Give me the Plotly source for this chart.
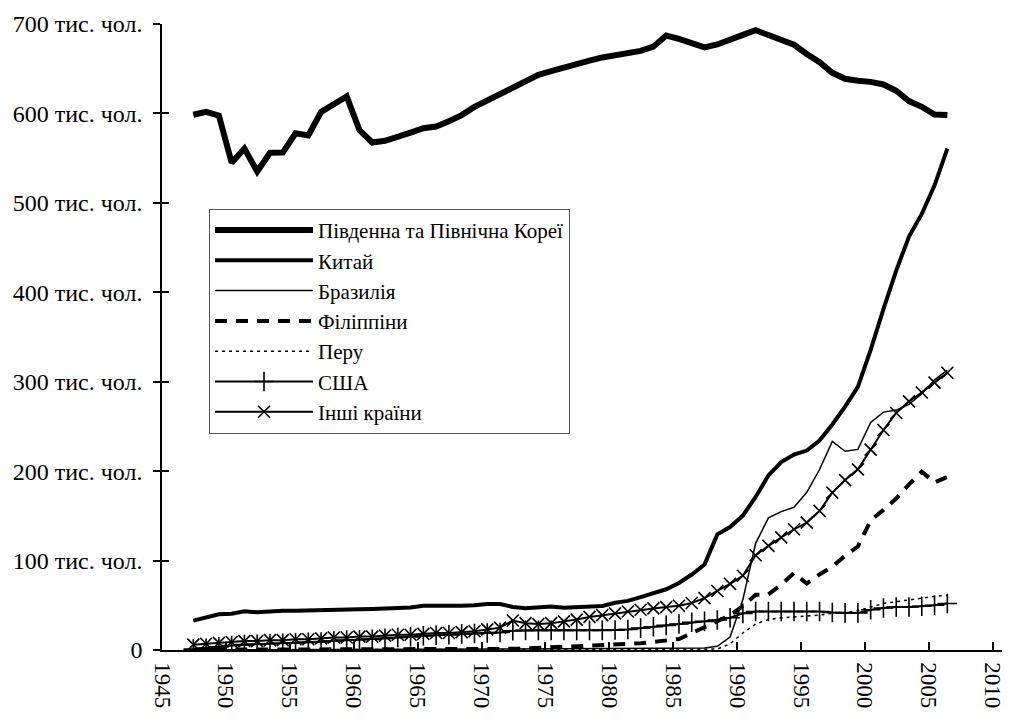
import plotly.graph_objects as go

years = list(range(1947, 2007))

korea = [598.5, 601.8, 597.6, 544.9, 560.7, 535.1, 556.1, 556.2, 577.7, 575.3,
         601.8, 611.1, 619.1, 581.3, 567.5, 569.4, 573.3, 578.5, 583.5, 585.3,
         591.3, 598.1, 607.3, 614.2, 622.7, 629.8, 636.3, 643.1, 647.2, 651.3,
         656.2, 659.0, 662.6, 664.5, 667.3, 669.9, 674.6, 687.1, 683.3, 678.0,
         673.8, 677.1, 681.8, 687.9, 693.1, 688.1, 682.3, 676.8, 666.4, 657.2,
         645.4, 638.8, 636.5, 635.3, 632.4, 625.4, 613.8, 607.4, 598.7, 598.2]

china = [32.9, 37.0, 40.0, 40.5, 43.4, 42.1, 43.4, 43.9, 43.9, 44.0,
         44.4, 44.4, 44.6, 45.5, 45.8, 46.1, 47.2, 47.5, 49.4, 49.1,
         49.3, 49.6, 50.0, 51.5, 51.5, 48.1, 46.6, 47.7, 48.7, 47.2,
         47.9, 48.5, 49.2, 52.9, 54.9, 59.1, 63.2, 67.9, 74.9, 84.4,
         95.5, 129.3, 137.5, 150.3, 171.1, 195.3, 210.1, 218.6, 223.0, 234.3,
         252.2, 272.2, 294.2, 335.6, 381.2, 424.3, 462.4, 487.6, 519.6, 560.7]

brazil = [0.2, 0.2, 0.2, 0.2, 0.2, 0.3, 0.3, 0.3, 0.3, 0.3,
          0.4, 0.4, 0.4, 0.5, 0.5, 0.5, 0.5, 0.5, 0.6, 0.6,
          0.7, 0.7, 0.8, 0.9, 1.0, 1.1, 1.2, 1.3, 1.4, 1.5,
          1.5, 1.5, 1.5, 1.5, 1.6, 1.7, 1.8, 1.9, 2.0, 2.1,
          2.3, 4.2, 14.5, 56.4, 119.3, 147.8, 154.7, 159.6, 176.4, 201.8,
          233.3, 222.2, 224.3, 254.4, 266.0, 268.3, 274.7, 286.6, 302.1, 313.0]

philippines = [0.3, 0.3, 0.3, 0.3, 0.3, 0.3, 0.3, 0.4, 0.4, 0.4,
               0.4, 0.4, 0.5, 0.5, 0.5, 0.5, 0.6, 0.6, 0.6, 0.7,
               0.7, 0.8, 0.8, 0.9, 1.0, 1.3, 1.7, 2.3, 3.0, 3.5,
               4.0, 4.5, 5.0, 5.5, 6.4, 7.5, 9.0, 10.5, 12.3, 18.9,
               25.0, 32.2, 38.9, 49.1, 61.8, 62.2, 73.1, 86.0, 74.3, 84.5,
               93.3, 105.3, 115.7, 144.9, 156.7, 169.4, 185.2, 199.4, 187.3, 193.5]

peru = [0.2, 0.2, 0.2, 0.2, 0.2, 0.2, 0.2, 0.2, 0.2, 0.2,
        0.2, 0.2, 0.2, 0.2, 0.2, 0.2, 0.2, 0.2, 0.2, 0.2,
        0.2, 0.2, 0.2, 0.3, 0.3, 0.3, 0.3, 0.3, 0.3, 0.3,
        0.3, 0.3, 0.3, 0.3, 0.3, 0.4, 0.4, 0.4, 0.5, 0.5,
        0.6, 1.0, 7.0, 19.0, 29.0, 34.0, 36.0, 37.0, 38.0, 39.0,
        41.0, 42.0, 44.0, 48.0, 52.0, 54.0, 56.0, 58.0, 60.0, 61.0]

usa = [1.0, 2.0, 3.5, 5.0, 6.0, 6.5, 7.0, 7.5, 8.0, 8.5,
       9.0, 10.0, 11.0, 11.5, 12.0, 13.0, 14.0, 15.0, 16.0, 16.5,
       17.0, 18.0, 18.5, 19.0, 19.5, 21.5, 22.0, 22.0, 22.0, 22.0,
       22.0, 22.0, 22.0, 22.4, 23.0, 24.5, 26.0, 27.5, 29.0, 31.0,
       32.0, 33.5, 36.0, 41.0, 43.0, 43.0, 43.0, 43.0, 43.0, 43.0,
       42.0, 41.5, 41.5, 45.0, 47.0, 48.0, 48.0, 49.0, 50.0, 52.0]

others = [6, 7, 8, 9, 10, 10, 11, 11, 12, 12,
          13, 14, 14, 15, 15, 16, 17, 17, 18, 19,
          19, 20, 21, 23, 25, 33, 30, 29, 30, 32,
          34, 37, 39, 41, 43, 45, 46.5, 48, 49.5, 52.5,
          58, 66, 74, 83, 106, 116.5, 126, 135, 142.5, 155.5,
          176, 190, 202, 224, 246, 265, 278, 288, 299, 310]

series_names = ["Південна та Північна Кореї", "Китай", "Бразилія", "Філіппіни",
                "Перу", "США", "Інші країни"]

x_ticks = list(range(1945, 2011, 5))
y_ticks = list(range(0, 701, 100))
y_ticktext = ["0"] + [f"{v} тис. чол." for v in y_ticks[1:]]

# each year's count is plotted mid-year, as in the original chart
xpos = [y + 0.45 for y in years]

FONT = "Liberation Serif"
fig = go.Figure()

styles = [
    (korea, dict(width=6, color="black"), None),
    (china, dict(width=4, color="black"), None),
    (brazil, dict(width=1.5, color="black"), None),
    (philippines, dict(width=4, color="black", dash="12px,9px"), None),
    (peru, dict(width=1.5, color="black", dash="3px,4px"), None),
    (usa, dict(width=2, color="black"),
     dict(symbol="cross-thin", size=14, line=dict(width=1.6, color="black"))),
    (others, dict(width=2, color="black"),
     dict(symbol="x-thin", size=12, line=dict(width=1.6, color="black"))),
]

for name, (vals, line, marker) in zip(series_names, styles):
    fig.add_trace(go.Scatter(
        x=xpos, y=vals, name=name,
        mode="lines+markers" if marker else "lines",
        line=line, marker=marker,
    ))

# helper trace for the inner half of the crossing y ticks
fig.add_trace(go.Scatter(x=[None], y=[None], yaxis="y2", showlegend=False,
                         hoverinfo="skip"))

fig.update_layout(
    width=1002, height=714,
    margin=dict(l=154, r=4, t=16, b=72),
    paper_bgcolor="white", plot_bgcolor="white",
    font=dict(family=FONT, color="black"),
    xaxis=dict(range=[1945, 2011.04], tickvals=x_ticks, tickangle=90,
               ticks="inside", ticklen=8, tickwidth=1.5, tickcolor="black",
               showline=True, linecolor="black", linewidth=1.5,
               showgrid=False, zeroline=False, automargin=False,
               ticklabelstandoff=6,
               tickfont=dict(family=FONT, size=23, color="black")),
    yaxis=dict(range=[0, 700], tickvals=y_ticks, ticktext=y_ticktext,
               ticks="outside", ticklen=7, tickwidth=1.5, tickcolor="black",
               showline=True, linecolor="black", linewidth=1.5,
               showgrid=False, zeroline=False, ticklabelstandoff=6,
               automargin=False,
               tickfont=dict(family=FONT, size=24, color="black")),
    yaxis2=dict(range=[0, 700], overlaying="y", anchor="x", side="left",
                tickvals=y_ticks, showticklabels=False, automargin=False,
                ticks="inside", ticklen=7, tickwidth=1.5, tickcolor="black",
                showline=False, showgrid=False, zeroline=False),
    legend=dict(x=0.0557, y=0.7047, xanchor="left", yanchor="top",
                bgcolor="white", bordercolor="#555", borderwidth=1,
                font=dict(family=FONT, size=21, color="black"),
                itemwidth=98, tracegroupgap=0),
    showlegend=True,
)

fig.write_html("out.html")
